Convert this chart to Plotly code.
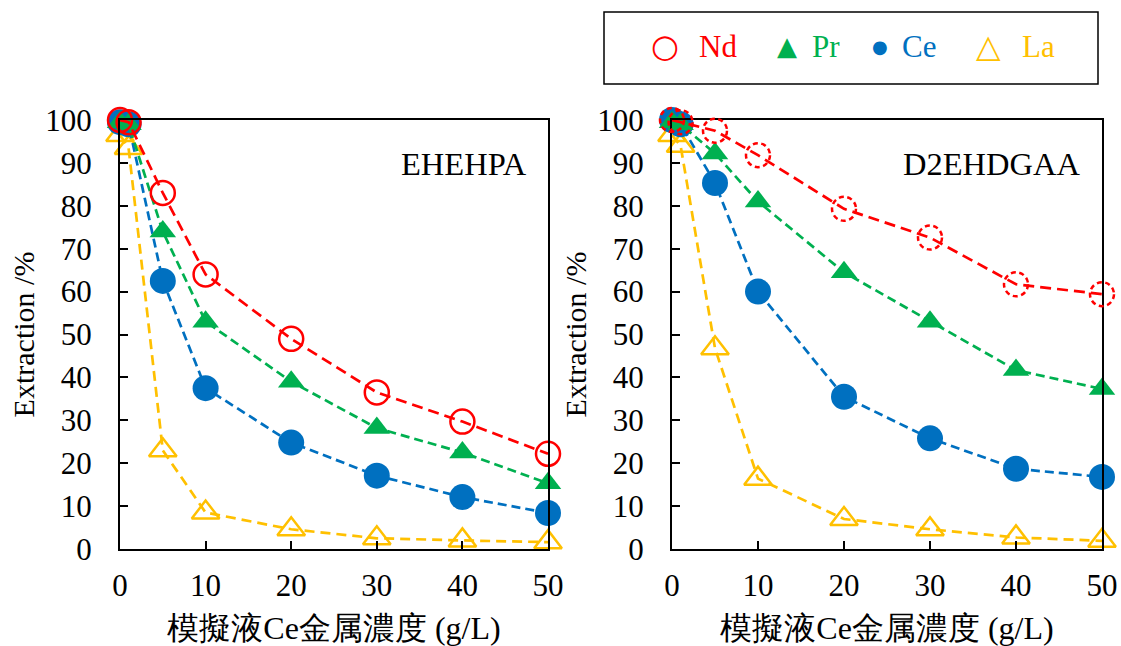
import plotly.graph_objects as go

# ---------------- data ----------------
conc = [0, 1, 5, 10, 20, 30, 40, 50]
x_ticks = [0, 10, 20, 30, 40, 50]
y_ticks = [0, 10, 20, 30, 40, 50, 60, 70, 80, 90, 100]

ehehpa_nd = [100, 99.5, 83, 64, 49, 36.5, 29.7, 22.2]
ehehpa_pr = [99.5, 99, 74, 53, 39, 28.2, 22.5, 15.3]
ehehpa_ce = [99.5, 99, 62.5, 37.5, 24.8, 17.1, 12.1, 8.4]
ehehpa_la = [96.5, 93.5, 23, 8.5, 4.6, 2.5, 2.0, 1.6]

d2_nd = [100, 99.5, 97.5, 91.8, 79.3, 72.6, 61.7, 59.4]
d2_pr = [99.5, 99, 92.2, 81, 64.5, 53, 41.7, 37.3]
d2_ce = [100, 99, 85.3, 60, 35.5, 25.8, 18.7, 16.8]
d2_la = [96.5, 94, 46.8, 16.4, 7.0, 4.6, 2.7, 1.9]

elements = ["Nd", "Pr", "Ce", "La"]
panel_labels = ["EHEHPA", "D2EHDGAA"]
x_title = "模擬液Ce金属濃度 (g/L)"
y_title = "Extraction /%"

RED = "#FF0000"
GREEN = "#00B050"
BLUE = "#0070C0"
YELLOW = "#FFC000"
FONT = "Liberation Serif"

fig = go.Figure()

def add_panel(xa, ya, nd, pr, ce, la, nd_markers=True):
    common = dict(x=conc, xaxis=xa, yaxis=ya, cliponaxis=False, showlegend=False)
    fig.add_trace(go.Scatter(y=la, mode="lines+markers", name="La",
                             line=dict(color=YELLOW, width=2.7, dash="10px,6px"),
                             marker=dict(symbol="triangle-up-open", size=24, color=YELLOW,
                                         line=dict(width=2.5, color=YELLOW)), **common))
    fig.add_trace(go.Scatter(y=ce, mode="lines+markers", name="Ce",
                             line=dict(color=BLUE, width=2.7, dash="9px,5px"),
                             marker=dict(symbol="circle", size=26, color=BLUE), **common))
    fig.add_trace(go.Scatter(y=pr, mode="lines+markers", name="Pr",
                             line=dict(color=GREEN, width=2.7, dash="9px,5px"),
                             marker=dict(symbol="triangle-up", size=23, color=GREEN), **common))
    fig.add_trace(go.Scatter(y=nd, mode="lines+markers" if nd_markers else "lines", name="Nd",
                             line=dict(color=RED, width=2.7, dash="11px,6px"),
                             marker=dict(symbol="circle-open", size=24, color=RED,
                                         line=dict(width=2.5, color=RED)), **common))

add_panel("x", "y", ehehpa_nd, ehehpa_pr, ehehpa_ce, ehehpa_la)
add_panel("x2", "y2", d2_nd, d2_pr, d2_ce, d2_la, nd_markers=False)

# the page body margin is removed (see post_script), so the figure fills the window
W, H = 1121, 646

def fx(px):
    return px / W

def fy(py):
    return 1 - py / H

top_px, bot_px = 120, 549
dom_y = [fy(bot_px), fy(top_px)]
dom_x1 = [fx(120), fx(548)]
dom_x2 = [fx(672), fx(1102)]

# overlay axes (same scale as panel 2, but a wider clip box) so the dashed circles are not clipped
PAD = 16
xr_pad = PAD * 50 / (1102 - 672)
yr_pad = PAD * 100 / (bot_px - top_px)
dom_x3 = [fx(672 - PAD), fx(1102 + PAD)]
dom_y3 = [fy(bot_px + PAD), fy(top_px - PAD)]

# dashed-outline circles for Nd in the right panel, anchored at the data values
for xv, yv in zip(conc, d2_nd):
    fig.add_shape(type="circle", xref="x3", yref="y3",
                  xsizemode="pixel", ysizemode="pixel",
                  xanchor=xv, yanchor=yv, x0=-12, x1=12, y0=-12, y1=12,
                  line=dict(color=RED, width=2.5, dash="5px,3.5px"), layer="above")

tick_font = dict(family=FONT, size=31, color="black")
xaxis_common = dict(range=[0, 50], tickvals=x_ticks, ticks="inside", ticklen=8, tickwidth=2,
                    tickcolor="black", showline=True, linecolor="black", linewidth=2,
                    mirror=True, showgrid=False, zeroline=False, tickfont=tick_font,
                    ticklabelstandoff=8, automargin=False,
                    title=dict(text=x_title, font=dict(family=FONT, size=32, color="black"),
                               standoff=16))
yaxis_common = dict(range=[0, 100], tickvals=y_ticks, ticks="inside", ticklen=8, tickwidth=2,
                    tickcolor="black", showline=True, linecolor="black", linewidth=2,
                    mirror=True, showgrid=False, zeroline=False, tickfont=tick_font,
                    ticklabelstandoff=20, automargin=False,
                    title=dict(text=y_title, font=dict(family=FONT, size=30, color="black"),
                               standoff=2))

fig.update_layout(
    width=W, height=H,
    margin=dict(l=0, r=0, t=0, b=0),
    paper_bgcolor="white", plot_bgcolor="rgba(0,0,0,0)",
    font=dict(family=FONT, color="black"),
    xaxis=dict(domain=dom_x1, anchor="y", **xaxis_common),
    yaxis=dict(domain=dom_y, anchor="x", **yaxis_common),
    xaxis2=dict(domain=dom_x2, anchor="y2", **xaxis_common),
    yaxis2=dict(domain=dom_y, anchor="x2", **yaxis_common),
    xaxis3=dict(domain=dom_x3, anchor="y3", range=[-xr_pad, 50 + xr_pad], visible=False,
                showgrid=False, zeroline=False, automargin=False, fixedrange=True),
    yaxis3=dict(domain=dom_y3, anchor="x3", range=[-yr_pad, 100 + yr_pad], visible=False,
                showgrid=False, zeroline=False, automargin=False, fixedrange=True),
)

# panel labels
fig.add_annotation(text=panel_labels[0], xref="paper", yref="paper", x=fx(529), y=fy(164),
                   xanchor="right", yanchor="middle", showarrow=False,
                   font=dict(family=FONT, size=32.5, color="black"))
fig.add_annotation(text=panel_labels[1], xref="paper", yref="paper", x=fx(1082), y=fy(164),
                   xanchor="right", yanchor="middle", showarrow=False,
                   font=dict(family=FONT, size=32.5, color="black"))

# legend box
fig.add_shape(type="rect", xref="paper", yref="paper",
              x0=fx(604), x1=fx(1098), y0=fy(84), y1=fy(12),
              line=dict(color="black", width=1.5), fillcolor="white")
leg_y = fy(46)
legend_items = [
    ("○", 32, 665, RED, elements[0], 718),
    ("▲", 26, 787, GREEN, elements[1], 826),
    ("●", 18, 880, BLUE, elements[2], 919),
    ("△", 32, 988, YELLOW, elements[3], 1038),
]
for sym, ssize, sx, col, label, lx in legend_items:
    fig.add_annotation(text=sym, xref="paper", yref="paper", x=fx(sx), y=leg_y,
                       xanchor="center", yanchor="middle", showarrow=False,
                       font=dict(family="DejaVu Sans", size=ssize, color=col))
    fig.add_annotation(text=label, xref="paper", yref="paper", x=fx(lx), y=leg_y,
                       xanchor="center", yanchor="middle", showarrow=False,
                       font=dict(family=FONT, size=31, color=col))

fig.write_html("out.html",
               config={"displayModeBar": False},
               post_script="document.body.style.margin='0';document.body.style.overflow='hidden';")
